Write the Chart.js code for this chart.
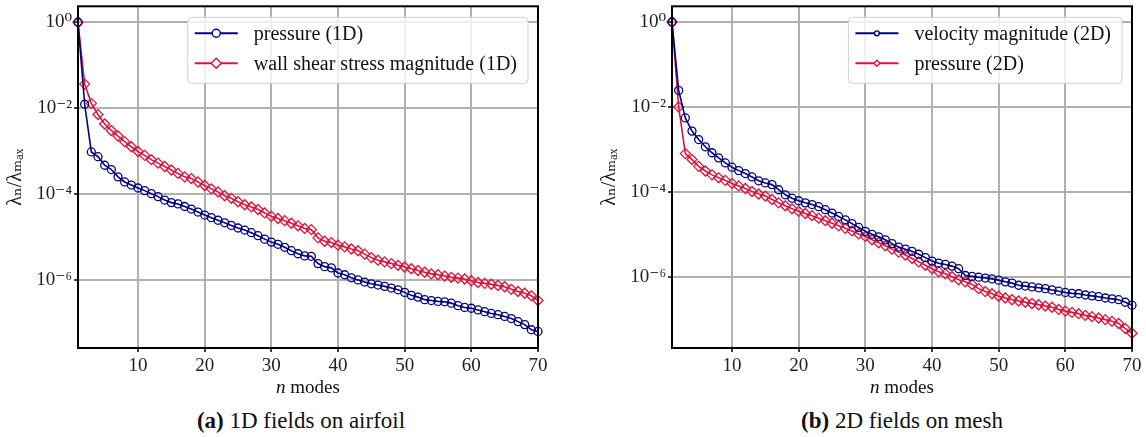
<!DOCTYPE html>
<html>
<head>
<meta charset="utf-8">
<script src="https://cdn.jsdelivr.net/npm/chart.js@4.4.1/dist/chart.umd.min.js"></script>
<style>
  body { margin: 0; background: #fff; width: 1146px; height: 437px; position: relative; overflow: hidden; font-family: "Liberation Serif", serif; }
  .box { position: absolute; top: 0; }
  #boxA { left: 0; }
  #boxB { left: 594px; }
  .caption { position: absolute; top: 408px; width: 400px; text-align: center; font-size: 23px; line-height: 26px; color: #111; }
</style>
</head>
<body>
<div class="box" id="boxA"><canvas id="chartA" width="573" height="400"></canvas></div>
<div class="box" id="boxB"><canvas id="chartB" width="552" height="400"></canvas></div>
<div class="caption" style="left:101px"><b>(a)</b> 1D fields on airfoil</div>
<div class="caption" style="left:702px"><b>(b)</b> 2D fields on mesh</div>

<script>
// mode index n (same for every series)
const modes = [
  1, 2, 3, 4, 5, 6, 7, 8, 9, 10, 11, 12, 13, 14, 15, 16, 17, 18, 19, 20,
  21, 22, 23, 24, 25, 26, 27, 28, 29, 30, 31, 32, 33, 34, 35, 36, 37, 38, 39, 40,
  41, 42, 43, 44, 45, 46, 47, 48, 49, 50, 51, 52, 53, 54, 55, 56, 57, 58, 59, 60,
  61, 62, 63, 64, 65, 66, 67, 68, 69, 70
];

// (a) 1D fields on airfoil
const pressure1D = [
  1, 1.23e-2, 9.55e-4, 7.41e-4, 4.68e-4, 3.72e-4, 2.51e-4, 1.91e-4, 1.62e-4, 1.38e-4,
  1.20e-4, 1.02e-4, 8.71e-5, 7.24e-5, 6.31e-5, 5.89e-5, 5.13e-5, 4.47e-5, 3.80e-5, 3.24e-5,
  2.82e-5, 2.45e-5, 2.14e-5, 1.86e-5, 1.62e-5, 1.45e-5, 1.26e-5, 1.07e-5, 8.91e-6, 7.59e-6,
  6.76e-6, 5.75e-6, 4.79e-6, 4.07e-6, 3.63e-6, 3.55e-6, 2.40e-6, 2.04e-6, 1.91e-6, 1.45e-6,
  1.32e-6, 1.12e-6, 1.00e-6, 8.91e-7, 8.13e-7, 7.59e-7, 7.08e-7, 6.46e-7, 5.89e-7, 5.13e-7,
  4.37e-7, 3.98e-7, 3.47e-7, 3.31e-7, 3.16e-7, 3.09e-7, 2.88e-7, 2.51e-7, 2.29e-7, 2.19e-7,
  2.00e-7, 1.82e-7, 1.66e-7, 1.55e-7, 1.41e-7, 1.26e-7, 1.07e-7, 9.12e-8, 6.92e-8, 6.31e-8
];
const wallShear1D = [
  1, 3.63e-2, 1.29e-2, 7.08e-3, 4.27e-3, 3.02e-3, 2.24e-3, 1.66e-3, 1.26e-3, 9.77e-4,
  7.94e-4, 6.31e-4, 5.25e-4, 4.37e-4, 3.63e-4, 3.02e-4, 2.51e-4, 2.29e-4, 1.91e-4, 1.58e-4,
  1.32e-4, 1.12e-4, 9.12e-5, 7.94e-5, 6.61e-5, 5.62e-5, 5.01e-5, 4.37e-5, 3.63e-5, 3.02e-5,
  2.69e-5, 2.40e-5, 2.09e-5, 1.82e-5, 1.58e-5, 1.48e-5, 9.55e-6, 7.94e-6, 7.41e-6, 6.46e-6,
  5.89e-6, 5.25e-6, 4.79e-6, 3.98e-6, 3.31e-6, 2.88e-6, 2.63e-6, 2.40e-6, 2.19e-6, 2.00e-6,
  1.82e-6, 1.66e-6, 1.51e-6, 1.38e-6, 1.32e-6, 1.23e-6, 1.15e-6, 1.10e-6, 1.05e-6, 9.55e-7,
  8.71e-7, 8.32e-7, 7.94e-7, 7.41e-7, 6.92e-7, 6.03e-7, 5.37e-7, 4.90e-7, 4.27e-7, 3.31e-7
];

// (b) 2D fields on mesh
const velocity2D = [
  1, 2.45e-2, 5.50e-3, 2.69e-3, 1.70e-3, 1.15e-3, 8.32e-4, 6.31e-4, 4.79e-4, 3.80e-4,
  3.16e-4, 2.69e-4, 2.24e-4, 1.82e-4, 1.62e-4, 1.48e-4, 1.12e-4, 8.51e-5, 7.08e-5, 6.17e-5,
  5.50e-5, 5.01e-5, 4.47e-5, 3.80e-5, 3.16e-5, 2.63e-5, 2.19e-5, 1.78e-5, 1.45e-5, 1.17e-5,
  1.00e-5, 8.71e-6, 7.41e-6, 6.03e-6, 5.01e-6, 4.47e-6, 3.98e-6, 3.39e-6, 2.82e-6, 2.34e-6,
  2.09e-6, 1.95e-6, 1.78e-6, 1.55e-6, 1.07e-6, 1.02e-6, 9.77e-7, 9.33e-7, 8.91e-7, 8.32e-7,
  7.59e-7, 7.08e-7, 6.31e-7, 6.03e-7, 5.75e-7, 5.50e-7, 5.25e-7, 4.90e-7, 4.57e-7, 4.27e-7,
  4.07e-7, 3.98e-7, 3.72e-7, 3.55e-7, 3.39e-7, 3.16e-7, 3.02e-7, 2.88e-7, 2.51e-7, 2.14e-7
];
const pressure2D = [
  1, 1.00e-2, 7.94e-4, 5.75e-4, 3.98e-4, 3.09e-4, 2.51e-4, 2.14e-4, 1.86e-4, 1.58e-4,
  1.38e-4, 1.20e-4, 1.02e-4, 8.91e-5, 7.94e-5, 6.61e-5, 5.50e-5, 4.68e-5, 3.98e-5, 3.47e-5,
  3.09e-5, 2.75e-5, 2.40e-5, 2.09e-5, 1.82e-5, 1.58e-5, 1.38e-5, 1.20e-5, 1.02e-5, 8.91e-6,
  7.41e-6, 6.31e-6, 5.37e-6, 4.47e-6, 3.80e-6, 3.24e-6, 2.69e-6, 2.24e-6, 1.86e-6, 1.55e-6,
  1.32e-6, 1.17e-6, 1.00e-6, 8.51e-7, 7.59e-7, 6.61e-7, 5.25e-7, 4.47e-7, 3.98e-7, 3.47e-7,
  3.16e-7, 2.88e-7, 2.69e-7, 2.51e-7, 2.34e-7, 2.19e-7, 2.04e-7, 1.91e-7, 1.70e-7, 1.55e-7,
  1.45e-7, 1.35e-7, 1.23e-7, 1.15e-7, 1.07e-7, 9.77e-8, 8.91e-8, 7.94e-8, 6.03e-8, 4.68e-8
];

// axis ticks
const xTicks = [10, 20, 30, 40, 50, 60, 70];
const yTicks = [1e-6, 1e-4, 1e-2, 1];
const yTickLabels = ["10\u207B\u2076", "10\u207B\u2074", "10\u207B\u00B2", "10\u2070"];

const NAVY = "#000080";
const CRIMSON = "#dc143c";
const SERIF = '"Liberation Serif", "DejaVu Serif", serif';

// frame around the plot, x label with italic n, legend box inside the axes
const axesDecor = {
  id: "axesDecor",
  afterDraw(chart, args, opts) {
    const { ctx, chartArea: a } = chart;
    ctx.save();
    ctx.strokeStyle = "#000";
    ctx.lineWidth = 2;
    ctx.strokeRect(a.left, a.top, a.right - a.left, a.bottom - a.top);

    // "n modes"
    ctx.fillStyle = "#111";
    ctx.textBaseline = "middle";
    ctx.font = `italic 19px ${SERIF}`;
    const nW = ctx.measureText("n").width;
    ctx.font = `19px ${SERIF}`;
    const restW = ctx.measureText(" modes").width;
    const tx = (a.left + a.right) / 2 - (nW + restW) / 2;
    ctx.font = `italic 19px ${SERIF}`;
    ctx.fillText("n", tx, 388);
    ctx.font = `19px ${SERIF}`;
    ctx.fillText(" modes", tx + nW, 388);

    // legend
    ctx.font = `${opts.fontSize}px ${SERIF}`;
    const sets = chart.data.datasets;
    const textW = Math.max(...sets.map(d => ctx.measureText(d.label).width));
    const w = 66 + textW + 11;
    const h = 66;
    const x = a.right - 10 - w;
    const y = a.top + 11;

    ctx.beginPath();
    ctx.roundRect(x, y, w, h, 4);
    ctx.fillStyle = "rgba(255,255,255,0.8)";
    ctx.fill();
    ctx.strokeStyle = "#d0d0d0";
    ctx.lineWidth = 1;
    ctx.stroke();

    sets.forEach((d, i) => {
      const ry = y + 16 + i * 30;
      ctx.strokeStyle = d.borderColor;
      ctx.lineWidth = 2;
      ctx.beginPath();
      ctx.moveTo(x + 7, ry);
      ctx.lineTo(x + 50, ry);
      ctx.stroke();
      ctx.fillStyle = "#fff";
      ctx.lineWidth = 1.4;
      Chart.helpers.drawPoint(ctx, {
        pointStyle: d.pointStyle,
        rotation: 0,
        radius: d.pointRadius * opts.markerScale,
        borderWidth: 1.4
      }, x + 28.5, ry);
      ctx.fillStyle = "#111";
      ctx.textBaseline = "middle";
      ctx.fillText(d.label, x + 66, ry + 1);
    });
    ctx.restore();
  }
};

function series(label, values, color, style) {
  return {
    label,
    data: modes.map((n, i) => ({ x: n, y: values[i] })),
    borderColor: color,
    borderWidth: 1.6,
    pointStyle: style,
    pointRadius: style === "circle" ? 4 : 5,
    pointBorderWidth: 1.3,
    pointBorderColor: color,
    pointBackgroundColor: "rgba(255,255,255,0)",
    tension: 0,
    clip: false
  };
}

function makeChart(id, datasets, yMin, yMax, rightPad, markerScale) {
  return new Chart(document.getElementById(id), {
    type: "line",
    data: { datasets },
    plugins: [axesDecor],
    options: {
      responsive: false,
      animation: false,
      events: [],
      layout: { padding: { top: 6, right: rightPad, left: 0, bottom: 0 } },
      plugins: {
        legend: { display: false },
        tooltip: { enabled: false },
        axesDecor: { fontSize: 20, markerScale }
      },
      scales: {
        x: {
          type: "linear",
          min: 1,
          max: 70,
          border: { display: false },
          grid: { color: "#b0b0b0", lineWidth: 2, tickColor: "#000", tickLength: 4, tickWidth: 1.5 },
          ticks: { color: "#222", font: { family: SERIF, size: 19 }, padding: 3, maxRotation: 0 },
          afterBuildTicks: s => { s.ticks = xTicks.map(v => ({ value: v })); },
          afterFit: s => { s.height = 52; s.paddingLeft = 0; s.paddingRight = 0; }
        },
        y: {
          type: "logarithmic",
          min: yMin,
          max: yMax,
          bounds: "data",
          border: { display: false },
          grid: { color: "#b0b0b0", lineWidth: 2, tickColor: "#000", tickLength: 4, tickWidth: 1.5 },
          ticks: {
            color: "#222",
            font: { family: SERIF, size: 19 },
            padding: 2,
            callback: (v, i) => yTickLabels[i]
          },
          afterBuildTicks: s => { s.ticks = yTicks.map(v => ({ value: v })); },
          afterFit: s => { s.width = 78; s.paddingTop = 0; s.paddingBottom = 0; },
          title: {
            display: true,
            text: "\u03BB\u2099/\u03BB\u2098\u2090\u2093",
            color: "#111",
            font: { family: SERIF, size: 20 },
            padding: { top: 4, bottom: 0 }
          }
        }
      }
    }
  });
}

makeChart("chartA", [
  series("pressure (1D)", pressure1D, NAVY, "circle"),
  series("wall shear stress magnitude (1D)", wallShear1D, CRIMSON, "rectRot")
], 2.6e-8, 2.35, 35, 1);

makeChart("chartB", [
  series("velocity magnitude (2D)", velocity2D, NAVY, "circle"),
  series("pressure (2D)", pressure2D, CRIMSON, "rectRot")
], 2.1e-8, 2.34, 14, 0.6);
</script>
</body>
</html>
